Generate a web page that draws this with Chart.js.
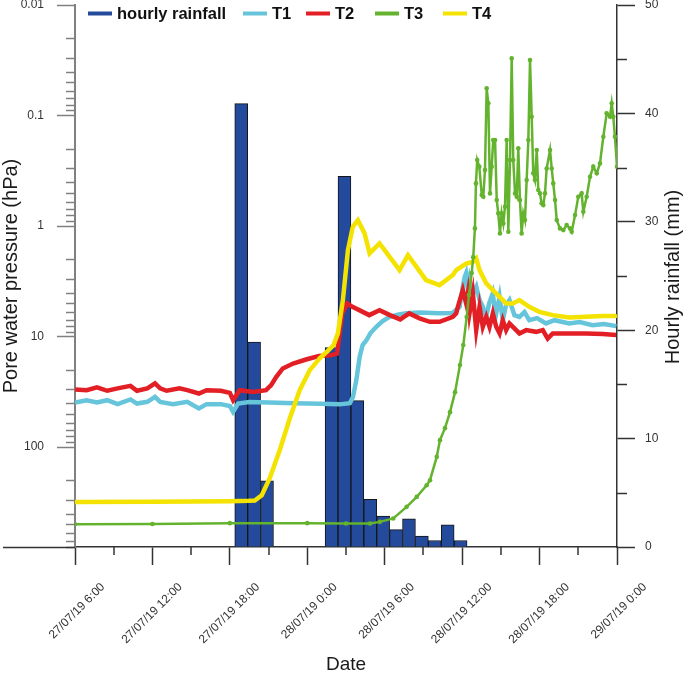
<!DOCTYPE html>
<html><head><meta charset="utf-8">
<script src="https://cdn.jsdelivr.net/npm/chart.js@4/dist/chart.umd.min.js"></script>
<style>html,body{margin:0;padding:0;background:#fff}#wrap{position:relative;width:685px;height:676px}</style>
</head><body><div id="wrap"><canvas id="c" width="685" height="676"></canvas></div>
<script>
// ---- data (x = hours since 27/07/19 0:00) ----
const timeTickHours = [6, 12, 18, 24, 30, 36, 42, 48];
const timeTickLabels = ['27/07/19 6:00','27/07/19 12:00','27/07/19 18:00','28/07/19 0:00','28/07/19 6:00','28/07/19 12:00','28/07/19 18:00','29/07/19 0:00'];
const pressureTicks = [0.01, 0.1, 1, 10, 100];
const pressureTickLabels = ['0.01', '0.1', '1', '10', '100'];
const rainTicks = [0, 10, 20, 30, 40, 50];
const rainTickLabels = ['0', '10', '20', '30', '40', '50'];

const rainHours = [18.88, 19.88, 20.88, 25.88, 26.88, 27.88, 28.88, 29.88, 30.88, 31.88, 32.88, 33.88, 34.88, 35.88];
const rainMm = [40.9, 18.9, 6.1, 18.4, 34.2, 13.5, 4.4, 2.85, 1.6, 2.6, 1.0, 0.6, 2.05, 0.6];

const t1Hours = [6,6.9,7.7,8.5,9.3,10.3,10.8,11.6,12.2,12.6,13.6,14.7,15.6,16.2,17.3,18.0,18.25,18.64,19.5,21,23,25,26.5,27.3,27.54,27.8,28.06,28.29,28.58,28.9,29.35,29.84,30.38,31.0,31.67,32.7,34.25,35.26,35.8,36.05,36.2,36.3,36.45,36.57,36.8,37.1,37.35,37.58,37.86,38.1,38.37,38.6,38.9,39.15,39.4,39.67,40.05,40.44,40.83,41.2,41.8,42.5,43.15,44.3,45.1,46.1,47.0,47.95];
const t1Values = [39.4,37.6,39.4,37.6,40.8,37.0,40.3,38.9,35.1,38.9,40.8,38.9,44.7,40.8,40.8,42.5,47.9,40.3,39,39.5,40,40.5,41,40,35.1,24.8,15.2,11.9,10.8,9.29,8.15,7.24,6.62,6.32,6.13,6.04,6.13,6.1,5.37,3.54,2.88,2.68,3.79,3.08,4.21,3.54,4.67,5.3,6.62,4.97,4.06,6.5,4.37,7.1,5.19,4.67,6.39,6.62,6.0,7.1,6.8,7.6,7.1,7.6,7.39,7.87,7.7,8.04];

const t2Hours = [6,6.9,7.7,8.5,9.3,10.3,10.8,11.6,12.2,12.6,13.1,14.1,14.7,15.6,16.2,17.3,18.0,18.25,18.77,19.8,20.8,21.2,21.6,22.1,22.9,23.9,24.9,25.9,26.3,26.44,26.7,27.1,27.5,28.3,28.8,29.6,30.4,31.2,31.9,32.7,33.5,34.25,35.28,35.54,35.67,36.05,36.31,36.44,36.57,36.83,37.09,37.35,37.6,37.87,38.12,38.38,38.64,38.9,39.15,39.41,39.67,39.93,40.44,40.96,41.74,42.25,42.63,43.02,44.3,45.6,46.9,47.93];
const t2Values = [30.1,30.5,28.8,30.9,29.4,27.9,30.9,29.4,26.5,29.4,30.9,29.4,30.5,32.7,30.5,30.9,32.3,37.6,30.5,31.6,30.5,27.5,23.1,19.4,17.5,16.1,15.0,14.7,14.2,10.8,6.17,5.01,5.37,5.97,6.39,5.76,6.39,6.99,6.17,6.84,7.35,7.35,6.62,6.17,5.37,3.79,5.01,4.06,6.17,4.06,8.73,5.37,8.15,6.62,8.15,6.17,8.15,9.35,7.1,8.73,7.6,8.15,9.35,8.73,9.05,8.73,10.4,9.35,9.35,9.35,9.49,9.69];

const t3Hours = [6,12,18,24,27,28.86,29.63,30.66,31.7,32.48,33.25,33.51,34.03,34.28,34.67,35.06,35.45,35.83,36.09,36.35,36.53,36.74,36.86,36.99,37.07,37.17,37.33,37.52,37.64,37.77,37.9,38.03,38.16,38.29,38.41,38.55,38.68,38.8,38.93,39.06,39.19,39.32,39.45,39.58,39.71,39.84,39.96,40.1,40.23,40.35,40.48,40.61,40.74,40.87,41.0,41.13,41.26,41.39,41.51,41.64,41.78,41.9,42.03,42.16,42.29,42.42,42.55,42.81,42.94,43.06,43.2,43.33,43.58,43.84,44.1,44.36,44.49,44.75,45.0,45.26,45.39,45.65,45.91,46.16,46.43,46.68,46.94,47.2,47.46,47.59,47.71,47.84,48.0];
const t3Values = [497.6,495,487,487,490,490,474,441.6,346.7,281.8,220.8,199,122.5,86.4,67.3,48.2,31.8,18.1,11.9,6.66,4.21,2.66,1.91,1.049,0.411,0.253,0.29,0.524,0.543,0.311,0.0567,0.0776,0.506,0.29,0.1667,0.1667,0.582,0.767,1.164,0.767,0.946,0.669,0.1667,1.127,0.253,0.0304,0.253,0.506,0.543,0.198,0.582,1.164,0.767,0.883,0.383,0.1667,0.0315,0.1025,0.333,0.383,0.205,0.472,0.506,0.623,0.646,0.506,0.301,0.205,0.301,0.411,0.582,0.883,1.049,1.087,0.979,1.049,1.127,0.795,0.543,0.506,0.743,0.543,0.358,0.29,0.333,0.271,0.1556,0.0955,0.1025,0.0776,0.1025,0.1556,0.29];

const t4Hours = [6,12,18,19.5,19.93,20.47,21.09,21.87,22.64,23.41,24.19,24.96,25.57,26.04,26.37,26.76,27.15,27.53,27.92,28.44,28.83,29.6,30.38,31.15,31.8,32.45,33.2,34.25,35.28,35.54,36.31,36.83,37.09,37.35,37.87,38.38,38.9,39.41,39.93,40.44,41.2,41.99,43.02,44.3,45.6,46.9,47.93];
const t4Values = [312.6,311,308,306,304,272,191,106,55,30.5,20.1,15.7,13.5,11.9,9.35,4.67,1.65,1.014,0.883,1.164,1.766,1.435,1.897,2.5,1.83,2.33,3.08,3.42,2.77,2.5,2.18,2.11,1.96,2.5,3.3,3.79,4.37,5.01,5.01,4.67,5.37,5.97,6.39,6.7,6.62,6.52,6.52];

// ---- helpers ----
const FONT = '"Liberation Sans", Arial, Helvetica, sans-serif';
const pts = (hs, vs) => hs.map((h, i) => ({x: h, y: vs[i]}));

// tick sets (majors from arrays, minors in between)
const xTickList = [];
timeTickHours.forEach((h, i) => { xTickList.push({value: h, major: true}); if (i < timeTickHours.length - 1) xTickList.push({value: (h + timeTickHours[i+1]) / 2, major: false}); });
const yLTickList = [];
pressureTicks.forEach(p => { yLTickList.push({value: p, major: true}); for (let m = 2; m <= 9; m++) { const v = parseFloat((p * m).toPrecision(3)); if (v <= 800) yLTickList.push({value: v, major: false}); } });
const yRTickList = [];
rainTicks.forEach((r, i) => { yRTickList.push({value: r, major: true}); if (i < rainTicks.length - 1) yRTickList.push({value: (r + rainTicks[i+1]) / 2, major: false}); });

const LEFT_AXIS = '#808080', DARK_AXIS = '#333333', LABEL = '#333333';

const decorPlugin = {
  id: 'decor',
  afterDraw(chart) {
    const {ctx, chartArea} = chart;
    const sx = chart.scales.x, sl = chart.scales.yL, sr = chart.scales.yR;
    ctx.save();
    const line = (x1, y1, x2, y2) => { ctx.beginPath(); ctx.moveTo(x1, y1); ctx.lineTo(x2, y2); ctx.stroke(); };
    // minor ticks
    ctx.lineWidth = 1.5; ctx.strokeStyle = DARK_AXIS;
    sx.ticks.forEach(t => { if (!t.major) { const p = Math.round(sx.getPixelForValue(t.value)); line(p, chartArea.bottom, p, chartArea.bottom + 8); } });
    sr.ticks.forEach(t => { if (!t.major) { const p = Math.round(sr.getPixelForValue(t.value)) + 0.5; line(chartArea.right, p, chartArea.right + 10, p); } });
    ctx.strokeStyle = LEFT_AXIS;
    sl.ticks.forEach(t => { if (!t.major) { const p = Math.round(sl.getPixelForValue(t.value)) + 0.5; line(chartArea.left - 9, p, chartArea.left, p); } });
    // x axis line extends to the left
    ctx.strokeStyle = DARK_AXIS;
    line(3, chartArea.bottom + 0.5, chartArea.left, chartArea.bottom + 0.5);
    // axis titles (vertical, reading upwards)
    ctx.fillStyle = '#1a1a1a';
    ctx.textAlign = 'center'; ctx.textBaseline = 'middle';
    ctx.font = '20px ' + FONT;
    ctx.save(); ctx.translate(11, 276); ctx.rotate(-Math.PI / 2); ctx.fillText('Pore water pressure (hPa)', 0, 0); ctx.restore();
    ctx.save(); ctx.translate(673, 277); ctx.rotate(-Math.PI / 2); ctx.fillText('Hourly rainfall (mm)', 0, 0); ctx.restore();
    // legend
    const legendX = [88, 243, 306, 375, 443];
    ctx.font = 'bold 16.5px ' + FONT;
    ctx.textAlign = 'left'; ctx.textBaseline = 'alphabetic';
    chart.data.datasets.forEach((ds, k) => {
      const x = legendX[k];
      ctx.strokeStyle = ds.legendColor; ctx.lineWidth = 4;
      line(x, 13.5, x + 24, 13.5);
      ctx.fillStyle = '#111';
      ctx.fillText(ds.label, x + 29, 18.5);
    });
    ctx.restore();
  }
};

new Chart(document.getElementById('c'), {
  type: 'bar',
  data: {
    datasets: [
      {type: 'bar', label: 'hourly rainfall', legendColor: '#234a9b', data: pts(rainHours, rainMm), xAxisID: 'x', yAxisID: 'yR',
       backgroundColor: '#234a9b', borderColor: '#151515', borderWidth: 1, barPercentage: 1, categoryPercentage: 1, order: 5},
      {type: 'line', label: 'T1', legendColor: '#66c5db', data: pts(t1Hours, t1Values), xAxisID: 'x', yAxisID: 'yL',
       borderColor: '#66c5db', backgroundColor: '#66c5db', borderWidth: 4.5, pointRadius: 0, tension: 0, order: 4},
      {type: 'line', label: 'T2', legendColor: '#e31f26', data: pts(t2Hours, t2Values), xAxisID: 'x', yAxisID: 'yL',
       borderColor: '#e31f26', backgroundColor: '#e31f26', borderWidth: 4.5, pointRadius: 0, tension: 0, order: 3},
      {type: 'line', label: 'T3', legendColor: '#64b32e', data: pts(t3Hours, t3Values), xAxisID: 'x', yAxisID: 'yL',
       borderColor: '#64b32e', backgroundColor: '#64b32e', borderWidth: 2.5, pointRadius: 2.3, pointBorderWidth: 0, tension: 0, order: 1},
      {type: 'line', label: 'T4', legendColor: '#f4e300', data: pts(t4Hours, t4Values), xAxisID: 'x', yAxisID: 'yL',
       borderColor: '#f4e300', backgroundColor: '#f4e300', borderWidth: 4.5, pointRadius: 1.8, pointBorderWidth: 0, tension: 0, order: 2}
    ]
  },
  options: {
    responsive: false, animation: false, devicePixelRatio: 1,
    layout: {padding: {top: 5, left: 0, right: 0, bottom: 0}},
    plugins: {legend: {display: false}, tooltip: {enabled: false}},
    scales: {
      x: {
        type: 'linear', position: 'bottom', min: 6, max: 48, offset: false,
        afterBuildTicks: s => { s.ticks = xTickList.map(t => ({value: t.value, major: t.major})); },
        ticks: {autoSkip: false, minRotation: 45, maxRotation: 45, labelOffset: 28, padding: 15, color: LABEL,
          font: {family: FONT, size: 12},
          callback: (v) => { const i = timeTickHours.indexOf(v); return i >= 0 ? timeTickLabels[i] : ''; }},
        grid: {drawOnChartArea: false, drawTicks: true, tickLength: 18, tickWidth: 1.5, offset: false,
          tickColor: c => (c.tick && c.tick.major) ? DARK_AXIS : 'rgba(0,0,0,0)'},
        border: {display: true, color: DARK_AXIS, width: 1.5},
        title: {display: true, text: 'Date', color: '#1a1a1a', font: {family: FONT, size: 19}, padding: {top: 0, bottom: 0}},
        afterFit: s => { s.height = 129; s.paddingLeft = 0; s.paddingRight = 0; }
      },
      yL: {
        type: 'logarithmic', position: 'left', reverse: true, min: 0.01, max: 800,
        afterBuildTicks: s => { s.ticks = yLTickList.map(t => ({value: t.value, major: t.major})); },
        ticks: {autoSkip: false, padding: 13, color: LABEL, font: {family: FONT, size: 12},
          callback: (v) => { const i = pressureTicks.indexOf(v); return i >= 0 ? pressureTickLabels[i] : ''; }},
        grid: {drawOnChartArea: false, drawTicks: true, tickLength: 18, tickWidth: 1.5,
          tickColor: c => (c.tick && c.tick.major) ? LEFT_AXIS : 'rgba(0,0,0,0)'},
        border: {display: true, color: LEFT_AXIS, width: 2},
        title: {display: false},
        afterFit: s => { s.width = 75; s.paddingTop = 0; s.paddingBottom = 0; }
      },
      yR: {
        type: 'linear', position: 'right', min: 0, max: 50,
        afterBuildTicks: s => { s.ticks = yRTickList.map(t => ({value: t.value, major: t.major})); },
        ticks: {autoSkip: false, padding: 10, color: LABEL, font: {family: FONT, size: 12},
          callback: (v) => { const i = rainTicks.indexOf(v); return i >= 0 ? rainTickLabels[i] : ''; }},
        grid: {drawOnChartArea: false, drawTicks: true, tickLength: 18, tickWidth: 1.5,
          tickColor: c => (c.tick && c.tick.major) ? DARK_AXIS : 'rgba(0,0,0,0)'},
        border: {display: true, color: DARK_AXIS, width: 1.5},
        title: {display: false},
        afterFit: s => { s.width = 68; s.paddingTop = 0; s.paddingBottom = 0; }
      }
    }
  },
  plugins: [decorPlugin]
});
</script></body></html>
